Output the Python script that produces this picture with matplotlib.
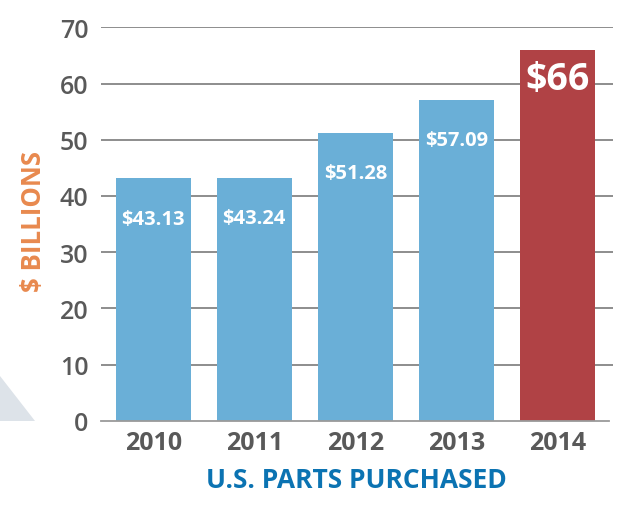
import matplotlib
matplotlib.use("Agg")
import matplotlib.pyplot as plt
from matplotlib.patches import Polygon

years = ["2010", "2011", "2012", "2013", "2014"]
values = [43.13, 43.24, 51.28, 57.09, 66]
labels = ["$43.13", "$43.24", "$51.28", "$57.09", "$66"]
yticks = [0, 10, 20, 30, 40, 50, 60, 70]

plt.rcParams['font.family'] = ['Open Sans', 'DejaVu Sans']

W, H = 628, 510
fig = plt.figure(figsize=(W / 100, H / 100), dpi=100)

# decorative triangle bottom-left
tri = Polygon([[0 / W, (H - 377) / H], [35 / W, (H - 422) / H], [0, (H - 422) / H]],
              closed=True, transform=fig.transFigure, facecolor="#dde3e9", edgecolor="none")
fig.patches.append(tri)

ax = fig.add_axes([101 / W, (H - 421.7) / H, 512 / W, 393.4 / H])
blue = "#6aafd7"
red = "#b04245"
colors = [blue] * 4 + [red]
x = list(range(len(years)))
ax.bar(x, values, width=0.74, color=colors, zorder=2)

ax.set_ylim(0, 70)
ax.set_xlim(-0.517, 4.55)
ax.set_yticks(yticks)
ax.set_yticklabels([str(t) for t in yticks], fontsize=18, color="#595959", fontweight="semibold")
ax.set_xticks(x)
ax.set_xticklabels(years, fontsize=18, color="#595959", fontweight="bold")
ax.tick_params(axis="both", length=0)
ax.tick_params(axis="y", pad=9)
ax.tick_params(axis="x", pad=7)

for y in yticks[1:]:
    ax.axhline(y, color="#7a7a7a", lw=1.2, zorder=1)

for s in ["top", "right", "left"]:
    ax.spines[s].set_visible(False)
ax.spines["bottom"].set_color("#9a9a9a")
ax.spines["bottom"].set_linewidth(1.3)
ax.spines["bottom"].set_bounds(-0.517, 4.507)

for i, (v, lab) in enumerate(zip(values, labels)):
    if i < 4:
        ax.annotate(lab, (i, v), xytext=(0, -29), textcoords="offset points",
                    ha="center", va="center", color="white", fontsize=14.5, fontweight="bold", zorder=3)
    else:
        ax.annotate(lab, (i, v), xytext=(0, -21), textcoords="offset points",
                    ha="center", va="center", color="white", fontsize=27, fontweight="bold", zorder=3)

fig.text(33 / W, 1 - 221 / H, "$ BILLIONS", rotation=90, ha="center", va="center",
         color="#e8894e", fontsize=18.5, fontweight="bold")
fig.text(356 / W, 1 - 481 / H, "U.S. PARTS PURCHASED", ha="center", va="center",
         color="#0b73b2", fontsize=19, fontweight="bold")

fig.savefig("out.png", dpi=100)
